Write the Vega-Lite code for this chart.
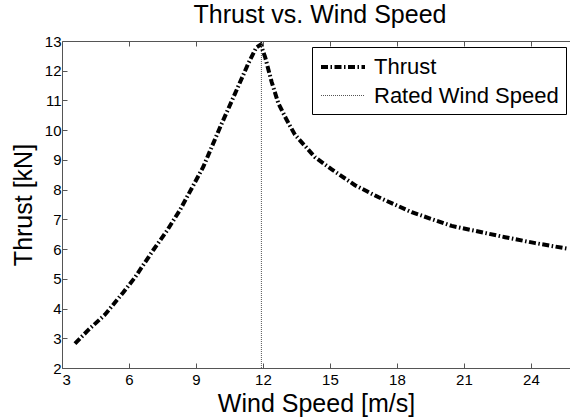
{
  "$schema": "https://vega.github.io/schema/vega-lite/v6.json",
  "width": 508,
  "height": 327,
  "autosize": "none",
  "padding": {"left": 62, "top": 41, "right": 0, "bottom": 50},
  "background": "white",
  "title": {
    "text": "Thrust vs. Wind Speed",
    "font": "Liberation Sans",
    "fontSize": 25,
    "fontWeight": "normal",
    "color": "black",
    "offset": 6,
    "dx": 4
  },
  "config": {
    "view": {"stroke": null},
    "font": "Liberation Sans",
    "legend": {
      "orient": "none",
      "legendX": 250,
      "legendY": 6,
      "title": null,
      "strokeColor": "black",
      "fillColor": "white",
      "padding": 7,
      "symbolType": "M-1,0H3",
      "symbolSize": 484,
      "labelFont": "Liberation Sans",
      "labelFontSize": 22,
      "labelColor": "black",
      "labelOffset": 29,
      "labelLimit": 400,
      "rowPadding": 6,
      "cornerRadius": 0
    }
  },
  "data": {
    "values": [
      {"series": "Thrust", "i": 1, "speed": 3.58, "thrust": 2.82},
      {"series": "Thrust", "i": 2, "speed": 4.18, "thrust": 3.28},
      {"series": "Thrust", "i": 3, "speed": 4.93, "thrust": 3.8},
      {"series": "Thrust", "i": 4, "speed": 5.75, "thrust": 4.55},
      {"series": "Thrust", "i": 5, "speed": 6.27, "thrust": 5.05},
      {"series": "Thrust", "i": 6, "speed": 7.09, "thrust": 5.97},
      {"series": "Thrust", "i": 7, "speed": 7.7, "thrust": 6.62},
      {"series": "Thrust", "i": 8, "speed": 8.28, "thrust": 7.31},
      {"series": "Thrust", "i": 9, "speed": 9.33, "thrust": 8.77},
      {"series": "Thrust", "i": 10, "speed": 10.08, "thrust": 10.1},
      {"series": "Thrust", "i": 11, "speed": 10.82, "thrust": 11.35},
      {"series": "Thrust", "i": 12, "speed": 11.34, "thrust": 12.24},
      {"series": "Thrust", "i": 13, "speed": 11.7, "thrust": 12.78},
      {"series": "Thrust", "i": 14, "speed": 11.9, "thrust": 12.88},
      {"series": "Thrust", "i": 15, "speed": 12.1, "thrust": 12.45},
      {"series": "Thrust", "i": 16, "speed": 12.39, "thrust": 11.62},
      {"series": "Thrust", "i": 17, "speed": 12.69, "thrust": 10.9},
      {"series": "Thrust", "i": 18, "speed": 13.06, "thrust": 10.35},
      {"series": "Thrust", "i": 19, "speed": 13.43, "thrust": 9.85},
      {"series": "Thrust", "i": 20, "speed": 14.33, "thrust": 9.09},
      {"series": "Thrust", "i": 21, "speed": 15.08, "thrust": 8.68},
      {"series": "Thrust", "i": 22, "speed": 16.12, "thrust": 8.15},
      {"series": "Thrust", "i": 23, "speed": 17.16, "thrust": 7.75},
      {"series": "Thrust", "i": 24, "speed": 18.66, "thrust": 7.24},
      {"series": "Thrust", "i": 25, "speed": 20.45, "thrust": 6.78},
      {"series": "Thrust", "i": 26, "speed": 22.84, "thrust": 6.4},
      {"series": "Thrust", "i": 27, "speed": 24.2, "thrust": 6.2},
      {"series": "Thrust", "i": 28, "speed": 25.6, "thrust": 6.02},
      {"series": "Rated Wind Speed", "i": 1, "speed": 11.93, "thrust": 2},
      {"series": "Rated Wind Speed", "i": 2, "speed": 11.93, "thrust": 13}
    ]
  },
  "layer": [
    {
      "mark": {"type": "line", "strokeCap": "butt"},
      "encoding": {
        "x": {
          "field": "speed",
          "type": "quantitative",
          "scale": {"domain": [3, 25.75], "nice": false, "zero": false},
          "axis": {
            "values": [3, 6, 9, 12, 15, 18, 21, 24],
            "grid": false,
            "domainColor": "#555555",
            "tickColor": "#555555",
            "tickSize": -5,
            "labelFontSize": 15,
            "labelColor": "black",
            "labelPadding": 9,
            "title": "Wind Speed [m/s]",
            "titleFontSize": 25,
            "titleFontWeight": "normal",
            "titleColor": "black",
            "titlePadding": 4
          }
        },
        "y": {
          "field": "thrust",
          "type": "quantitative",
          "scale": {"domain": [2, 13], "nice": false, "zero": false},
          "axis": {
            "values": [2, 3, 4, 5, 6, 7, 8, 9, 10, 11, 12, 13],
            "grid": false,
            "domainColor": "#555555",
            "tickColor": "#555555",
            "tickSize": -5,
            "labelFontSize": 15,
            "labelColor": "black",
            "labelPadding": 6,
            "title": "Thrust [kN]",
            "titleFontSize": 25,
            "titleFontWeight": "normal",
            "titleColor": "black",
            "titlePadding": 8
          }
        },
        "order": {"field": "i", "type": "quantitative"},
        "color": {
          "field": "series",
          "type": "nominal",
          "scale": {"domain": ["Thrust", "Rated Wind Speed"], "range": ["#000000", "#555555"]}
        },
        "strokeDash": {
          "field": "series",
          "type": "nominal",
          "scale": {"domain": ["Thrust", "Rated Wind Speed"], "range": [[7, 2.5, 1.5, 2.5], [1, 1]]}
        },
        "strokeWidth": {
          "field": "series",
          "type": "nominal",
          "scale": {"domain": ["Thrust", "Rated Wind Speed"], "range": [4, 1]}
        }
      }
    },
    {
      "mark": {"type": "point", "opacity": 0},
      "encoding": {
        "x": {
          "field": "speed",
          "type": "quantitative",
          "axis": {
            "orient": "top",
            "values": [6, 9, 12, 15, 18, 21, 24],
            "grid": false,
            "labels": false,
            "title": null,
            "domainColor": "#555555",
            "tickColor": "#555555",
            "tickSize": -5
          }
        }
      }
    }
  ],
  "resolve": {"axis": {"x": "independent"}}
}
